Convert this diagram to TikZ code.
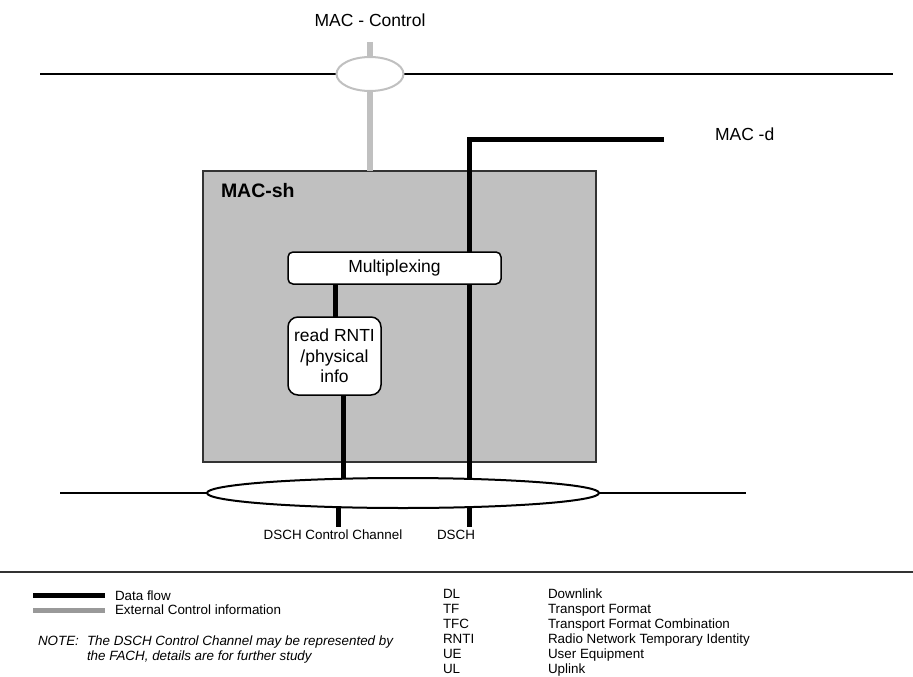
\documentclass[tikz,border=0pt]{standalone}
\usepackage{fontspec}
\setmainfont{Liberation Sans}
\usetikzlibrary{shapes.geometric}
\definecolor{boxgray}{HTML}{C0C0C0}
\definecolor{ctrlgray}{HTML}{C0C0C0}
\definecolor{leggray}{HTML}{999999}
\definecolor{edgegray}{HTML}{333333}
\tikzset{
  bigtext/.style={font=\fontsize{17.5}{20.5}\selectfont},
  smalltext/.style={font=\fontsize{13.4}{15}\selectfont},
  txt/.style={inner sep=0pt, outer sep=0pt},
  dataline/.style={line width=5pt, black},
  ctrlline/.style={line width=6pt, ctrlgray},
  thinline/.style={line width=2pt, black},
  roundbox/.style={draw=black, line width=1.5pt, fill=white, inner sep=0pt},
}
\begin{document}
\begin{tikzpicture}[x=1pt,y=-1pt]
\useasboundingbox (0,0) rectangle (913,677);

% MAC-sh box
\node[draw=edgegray, line width=1.5pt, fill=boxgray, minimum width=393pt, minimum height=291pt, inner sep=0pt] (macsh) at (399.5,316.5) {};
\node[txt, font=\fontsize{19.5}{22}\selectfont\bfseries, anchor=base west] (macshlbl) at (221,197.5) {MAC-sh};

% coordinates
\coordinate (ctrltop) at (370,42);
\coordinate (dend) at (664,139);
\coordinate (dcorner) at (469,139);
\coordinate (dbot) at (469,527);
\coordinate (ccbot) at (338,527);
\coordinate (cctop) at (338,500);
\coordinate (tl) at (40,74);
\coordinate (tr) at (893,74);
\coordinate (bl) at (60,493);
\coordinate (br) at (746,493);

% horizontal thin lines
\draw[thinline] (tl) -- (tr);
\draw[thinline] (bl) -- (br);

% control line
\draw[ctrlline] (ctrltop) -- (370,171);

% data lines
\draw[dataline] (dend) -- (dcorner) -- (dbot);
\draw[dataline] (335,284) -- (335,317);
\draw[dataline] (343,395) -- (343,490);
\draw[dataline] (cctop) -- (ccbot);

% boxes
\node[roundbox, rounded corners=5pt, minimum width=213pt, minimum height=32pt, bigtext] (mux) at (394.5,268) {Multiplexing};
\node[roundbox, rounded corners=10pt, minimum width=93pt, minimum height=78pt, bigtext, align=center] (rnti) at (334.5,356) {read RNTI\\/physical\\info};

% ellipses
\node[ellipse, draw=ctrlgray, line width=2pt, fill=white, minimum width=67pt, minimum height=34pt, inner sep=0pt] (topell) at (370,74) {};
\node[ellipse, draw=black, line width=2pt, fill=white, minimum width=392pt, minimum height=30pt, inner sep=0pt] (botell) at (403,493) {};

% labels
\node[txt, bigtext, anchor=base] (macctrl) at (370,27) {MAC - Control};
\node[txt, bigtext, anchor=base west] (macd) at (715,140) {MAC -d};
\node[txt, smalltext, anchor=base] (ccl) at (333,539) {DSCH Control Channel};
\node[txt, smalltext, anchor=base] (dschl) at (456,539) {DSCH};

% separator
\draw[line width=1.5pt, edgegray] (0,572) -- (913,572);

% legend
\coordinate (lg1a) at (33,595);
\coordinate (lg1b) at (105,595);
\coordinate (lg2a) at (33,610);
\coordinate (lg2b) at (105,610);
\draw[line width=5pt, black] (lg1a) -- (lg1b);
\draw[line width=5pt, leggray] (lg2a) -- (lg2b);
\node[txt, smalltext, anchor=base west] (ldf) at (115,600) {Data flow};
\node[txt, smalltext, anchor=base west] (lec) at (115,614.5) {External Control information};
\node[txt, font=\fontsize{13.4}{15}\selectfont\itshape, anchor=base west] (note) at (38,645) {NOTE:};
\node[txt, font=\fontsize{13.4}{15}\selectfont\itshape, anchor=base west] (note1) at (87,645) {The DSCH Control Channel may be represented by};
\node[txt, font=\fontsize{13.4}{15}\selectfont\itshape, anchor=base west] (note2) at (87,660) {the FACH, details are for further study};

\foreach \ab/\de/\yy [count=\i] in {DL/Downlink/598.5, TF/Transport Format/613.5, TFC/Transport Format Combination/628.5, RNTI/Radio Network Temporary Identity/643.5, UE/User Equipment/658.5, UL/Uplink/673.5}{
  \node[txt, smalltext, anchor=base west] (ab\i) at (443,\yy) {\ab};
  \node[txt, smalltext, anchor=base west] (de\i) at (548,\yy) {\de};
}
\end{tikzpicture}
\end{document}
